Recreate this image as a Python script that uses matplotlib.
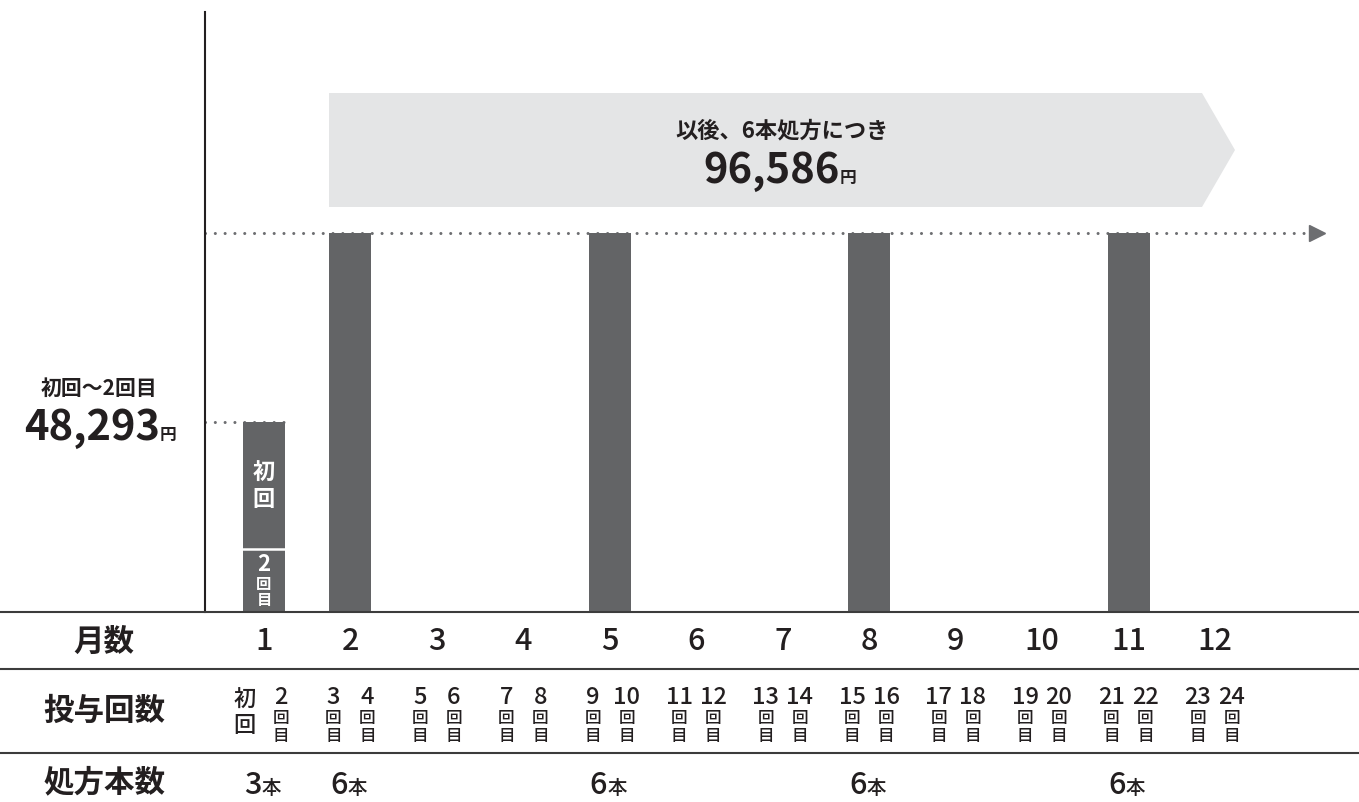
import matplotlib.pyplot as plt
from matplotlib.patches import Polygon

plt.rcParams['font.family'] = ['Noto Sans CJK JP', 'DejaVu Sans']

# data
months = list(range(1, 13))
bar_months = [2, 5, 8, 11]
bar_values = [96586, 96586, 96586, 96586]
first_total = 48293
first_split = [1, 2]          # 2回目 (1本) below, 初回 (2本) above
bottle_months = [1, 2, 5, 8, 11]
bottle_counts = [3, 6, 6, 6, 6]
row_titles = ['月数', '投与回数', '処方本数']

TXT = '#231f20'
BAR = '#636466'
DOT = '#6d6e71'
LINE = '#3c3c3c'

W, H = 1359, 803
BASE = 613           # px of baseline
X0, DX = 264, 86.45  # px of month 1, px per month
YTOP = 156200


def mx(px):
    return 1 + (px - X0) / DX


def vy(py):
    return (BASE - py) * YTOP / BASE


fig = plt.figure(figsize=(W / 100, H / 100), dpi=100)

ax = fig.add_axes([0, (H - BASE) / H, 1, BASE / H])
ax.set_xlim(mx(0), mx(W))
ax.set_ylim(0, YTOP)
ax.axis('off')

tb = fig.add_axes([0, 0, 1, (H - BASE) / H])
tb.set_xlim(mx(0), mx(W))
tb.set_ylim(H, BASE)
tb.axis('off')

# chevron banner
chev = Polygon([(mx(329), vy(94)), (mx(1202), vy(94)), (mx(1235), vy(151)),
                (mx(1202), vy(208)), (mx(329), vy(208))],
               closed=True, facecolor='#e4e5e6', edgecolor='none', zorder=1)
ax.add_patch(chev)

# bars
bw = 42 / DX
ax.bar(bar_months, bar_values, width=bw, color=BAR, zorder=3)
seg = [first_total * s / sum(first_split) for s in first_split]
ax.bar(1, seg[0], width=bw, color=BAR, zorder=3)
ax.bar(1, seg[1], bottom=seg[0], width=bw, color=BAR, zorder=3)
ax.plot([1 - bw / 2, 1 + bw / 2], [seg[0], seg[0]], color='white', lw=1.8, zorder=4)

ax.text(1, seg[0] + seg[1] / 2, '初\n回', color='white', fontsize=16, fontweight='bold',
        ha='center', va='center', linespacing=1.15, zorder=5)
ax.text(1, seg[0] / 2 + 1500, '2', color='white', fontsize=16, fontweight='bold',
        ha='center', va='bottom', zorder=5)
ax.text(1, seg[0] / 2 + 1500, '回\n目', color='white', fontsize=11, fontweight='bold',
        ha='center', va='top', linespacing=1.0, zorder=5)

# dotted guide lines
dot_ls = (0, (0.01, 3.2))
ax.plot([mx(205), mx(1310)], [bar_values[0]] * 2, color=DOT, lw=2.2, ls=dot_ls,
        dash_capstyle='round', zorder=2)
ax.plot([mx(1317)], [bar_values[0]], marker='>', color=DOT, markersize=12, zorder=2)
ax.plot([mx(205), 1 + bw / 2], [first_total] * 2, color=DOT, lw=2.2, ls=dot_ls,
        dash_capstyle='round', zorder=2)

# axis line
ax.plot([mx(205), mx(205)], [0, vy(13)], color=TXT, lw=1.5, clip_on=False)

# banner text
ax.text(mx(782), vy(131), '以後、6本処方につき', color=TXT, fontsize=16,
        fontweight='bold', ha='center', va='center', zorder=5)
ax.text(mx(840), vy(183), f'{bar_values[0]:,}', color=TXT, fontsize=30,
        fontweight='bold', ha='right', va='baseline', zorder=5)
ax.text(mx(840), vy(183), '円', color=TXT, fontsize=12,
        fontweight='bold', ha='left', va='baseline', zorder=5)

# left label
ax.text(mx(99), vy(388), '初回〜2回目', color=TXT, fontsize=15,
        fontweight='bold', ha='center', va='center')
ax.text(mx(160), vy(440), f'{first_total:,}', color=TXT, fontsize=30,
        fontweight='bold', ha='right', va='baseline')
ax.text(mx(160), vy(440), '円', color=TXT, fontsize=12,
        fontweight='bold', ha='left', va='baseline')

# table lines
for y in [BASE, 670, 754]:
    tb.plot(tb.get_xlim(), [y, y], color=LINE, lw=1.5, clip_on=False)

# row titles
for t, y in zip(row_titles, [642, 711, 782]):
    tb.text(mx(104), y, t, color=TXT, fontsize=22, fontweight='bold',
            ha='center', va='center')

# month numbers
for m in months:
    tb.text(m, 642, str(m), color=TXT, fontsize=22, fontweight='medium',
            ha='center', va='center')

# dose numbers
off = 17 / DX
for m in months:
    for k, d in enumerate([2 * m - 1, 2 * m]):
        x = m - off if k == 0 else m + off
        if d == 1:
            tb.text(x - 0.03, 713, '初\n回', color=TXT, fontsize=16, fontweight='medium',
                    ha='center', va='center', linespacing=1.1)
            continue
        tb.text(x, 704, str(d), color=TXT, fontsize=17, fontweight='medium',
                ha='center', va='baseline')
        tb.text(x, 727, '回\n目', color=TXT, fontsize=12, fontweight='medium',
                ha='center', va='center', linespacing=1.0)

# bottle counts
for m, c in zip(bottle_months, bottle_counts):
    tb.text(m - 0.03, 794, str(c), color=TXT, fontsize=22, fontweight='medium',
            ha='right', va='baseline')
    tb.text(m - 0.03, 794, '本', color=TXT, fontsize=14, fontweight='medium',
            ha='left', va='baseline')

fig.savefig('out.png', dpi=100)
